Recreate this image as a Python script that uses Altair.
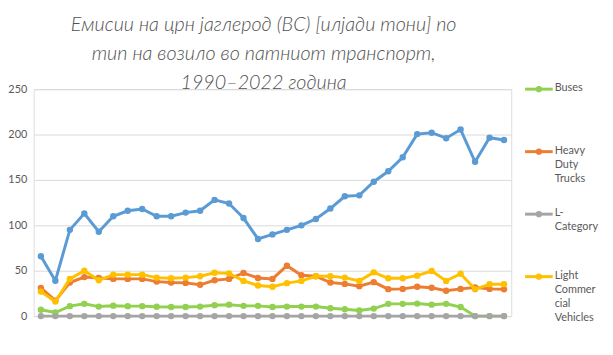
import altair as alt
import pandas as pd

years = list(range(1990, 2023))
series_names = ["Buses", "Heavy Duty Trucks", "L-Category", "Light Commercial Vehicles", "Passenger Cars"]
series_colors = ["#92D050", "#ED7D31", "#A5A5A5", "#FFC000", "#5B9BD5"]

buses = [7, 4, 11, 13.5, 10.5, 11.5, 11, 11, 10.3, 10, 10, 10.5, 12, 12.6, 11.3, 11.3, 10, 10.5, 10.5,
         10.5, 8.7, 7.6, 6.2, 8.3, 13.5, 13.5, 13.8, 12.6, 13.5, 10, 0, 0, 0]
hdt = [31, 17, 37, 43, 42, 41, 41, 41, 38, 37, 36.6, 34.5, 39.5, 41, 47.5, 42, 41, 55.5, 45,
       44, 37, 35.5, 33, 37.4, 29.7, 30, 32.3, 31.2, 28, 30, 31.5, 30, 29.5]
lcat = [0] * 33
lcv = [27, 16, 41, 50, 39.5, 45.7, 45.7, 45.7, 42.4, 41.7, 42.4, 43.9, 47.8, 47.1, 38.8, 33.7, 32.3, 36.3, 38.8,
       43.9, 43.9, 42.4, 38.8, 48.2, 41.7, 41.7, 44.6, 49.7, 38.8, 46.7, 29.5, 35.2, 35.2]
cars = [66, 39, 95, 113, 93, 110, 116, 118, 110, 110, 114, 116, 128, 124, 108, 85, 90, 95, 100,
        107, 118.5, 132, 133, 148, 159.5, 175, 200.5, 202, 196, 205.5, 170, 196.5, 194]

legend_names = ["Buses", "Heavy Duty Trucks", "L-Category", "Light Commercial Vehicles"]
legend_labels = ["Buses", "Heavy\nDuty\nTrucks", "L-\nCategory", "Light\nCommer\ncial\nVehicles"]
legend_colors = series_colors[:4]

title_lines = ["Емисии на црн јаглерод (BC) [илјади тони] по",
               "тип на возило во патниот транспорт,",
               "1990–2022 година"]

values = [buses, hdt, lcat, lcv, cars]
rows = []
for name, vals in zip(series_names, values):
    for y, v in zip(years, vals):
        rows.append({"year": str(y), "series": name, "value": v})
df = pd.DataFrame(rows)

leg_df = pd.DataFrame({"name": legend_names, "label": legend_labels, "color": legend_colors})

W, H = 484, 230
FONT = "Lato"

xenc = alt.X("year:O", scale=alt.Scale(type="point", padding=0.5), axis=None)
yenc = alt.Y("value:Q", scale=alt.Scale(domain=[0, 250], nice=False),
             axis=alt.Axis(values=[0, 50, 100, 150, 200, 250], title=None, domain=False, ticks=False,
                           grid=True, gridColor="#D9D9D9", gridWidth=1, labelColor="#595959",
                           labelFontSize=11, labelFont=FONT, labelPadding=7))

layers = []
for i, (name, col) in enumerate(zip(series_names, series_colors)):
    lay = alt.Chart(df).transform_filter(alt.datum.series == name).mark_line(
        strokeWidth=3, color=col,
        point=alt.OverlayMarkDef(filled=True, size=42, color=col, opacity=1)
    ).encode(x=xenc, y=yenc if i == 0 else alt.Y("value:Q"))
    layers.append(lay)

main = alt.layer(*layers)

ly = alt.Y("name:N", scale=alt.Scale(type="point", domain=legend_names, range=[0, 190], padding=0), axis=None)
leg_rule = alt.Chart(leg_df).mark_rule(strokeWidth=3).encode(
    x=alt.value(498), x2=alt.value(526), y=ly, color=alt.Color("color:N", scale=None))
leg_pt = alt.Chart(leg_df).mark_point(filled=True, size=40, opacity=1).encode(
    x=alt.value(512), y=ly, color=alt.Color("color:N", scale=None))
leg_txt = alt.Chart(leg_df).mark_text(align="left", baseline="top", dy=-7, lineBreak="\n",
                                      fontSize=11, font=FONT, color="#595959", lineHeight=14.3).encode(
    x=alt.value(528), y=ly, text="label:N")
legend = alt.layer(leg_rule, leg_pt, leg_txt)

chart = alt.layer(main, legend).resolve_scale(y="independent").properties(
    width=W, height=H,
    title=alt.TitleParams(text=title_lines, font=FONT, fontSize=20, fontStyle="italic", fontWeight=300,
                          color="#505050", lineHeight=29.5, anchor="middle", frame="group", dx=-9, offset=-11),
    autosize=alt.AutoSizeParams(type="none"),
    padding={"left": 26, "top": 80, "right": 95, "bottom": 25},
).configure_view(stroke=None).configure(background="white")

chart.save("out.html", embed_options={"renderer": "svg", "actions": False})
